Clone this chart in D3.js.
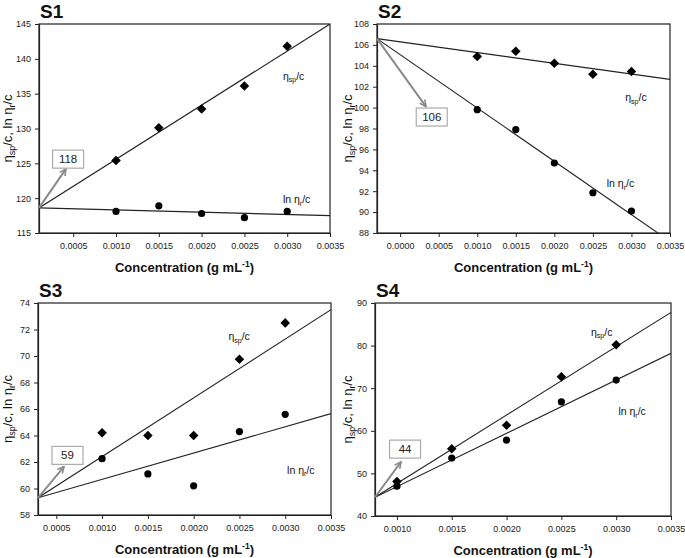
<!DOCTYPE html>
<html><head><meta charset="utf-8">
<script src="https://cdn.jsdelivr.net/npm/d3@7"></script>
<style>
body{margin:0;background:#fff;}
svg{font-family:"Liberation Sans",Arial,sans-serif;}
</style></head><body>
<svg id="c" width="685" height="558"></svg>
<script>
// ---- data ----
const concentrations = [0.0010, 0.0015, 0.0020, 0.0025, 0.0030];
const s1Sp = [125.4, 130.1, 132.8, 136.1, 141.8];
const s1Ln = [118.1, 118.9, 117.8, 117.2, 118.1];
const s2Sp = [104.9, 105.4, 104.25, 103.2, 103.45];
const s2Ln = [99.8, 97.9, 94.7, 91.85, 90.1];
const s3Sp = [64.2, 64.0, 64.0, 69.75, 72.5];
const s3Ln = [62.25, 61.1, 60.2, 64.3, 65.6];
const s4Sp = [48.1, 55.8, 61.3, 72.7, 80.2];
const s4Ln = [47.0, 53.6, 57.8, 66.8, 71.9];
// fitted lines: value at left end and right end of x domain
const s1SpFit = [118.6, 145.0], s1LnFit = [118.6, 117.5];
const s2SpFit = [106.6, 102.7], s2LnFit = [106.6, 87.2];
const s3SpFit = [59.3, 73.5],  s3LnFit = [59.3, 65.65];
const s4SpFit = [44.4, 87.8],  s4LnFit = [44.4, 78.2];
const intercepts = ["118", "106", "59", "44"];
const titles = ["S1", "S2", "S3", "S4"];
const s1XTicks = [0.0005, 0.0010, 0.0015, 0.0020, 0.0025, 0.0030, 0.0035];
const s2XTicks = [0.0000, 0.0005, 0.0010, 0.0015, 0.0020, 0.0025, 0.0030, 0.0035];
const s3XTicks = [0.0005, 0.0010, 0.0015, 0.0020, 0.0025, 0.0030, 0.0035];
const s4XTicks = [0.0010, 0.0015, 0.0020, 0.0025, 0.0030, 0.0035];
const s1YTicks = [115, 120, 125, 130, 135, 140, 145];
const s2YTicks = [88, 90, 92, 94, 96, 98, 100, 102, 104, 106, 108];
const s3YTicks = [58, 60, 62, 64, 66, 68, 70, 72, 74];
const s4YTicks = [40, 50, 60, 70, 80, 90];

// ---- layout ----
const panels = [
  {title: titles[0], box: [39, 24, 330, 233], xd: [0.0001, 0.0035], yd: [115, 145], xt: s1XTicks, yt: s1YTicks,
   sp: s1Sp, ln: s1Ln, spFit: s1SpFit, lnFit: s1LnFit, icpt: intercepts[0],
   boxAt: [0.00044, 125.6], tipAt: [0.000415, 124.2], spLbl: [0.00295, 137.0], lnLbl: [0.00295, 119.3], ylabX: 12},
  {title: titles[1], box: [377, 24, 670, 233], xd: [-0.0003, 0.0035], yd: [88, 108], xt: s2XTicks, yt: s2YTicks,
   sp: s2Sp, ln: s2Ln, spFit: s2SpFit, lnFit: s2LnFit, icpt: intercepts[1],
   boxAt: [0.00041, 99.1], tipAt: [0.000335, 100.1], spLbl: [0.00292, 100.6], lnLbl: [0.00268, 92.4], ylabX: 352},
  {title: titles[2], box: [38, 303, 331, 515], xd: [0.0003, 0.0035], yd: [58, 74], xt: s3XTicks, yt: s3YTicks,
   sp: s3Sp, ln: s3Ln, spFit: s3SpFit, lnFit: s3LnFit, icpt: intercepts[2],
   boxAt: [0.000622, 62.5], tipAt: [0.000584, 61.65], spLbl: [0.00238, 71.2], lnLbl: [0.00302, 61.1], ylabX: 12},
  {title: titles[3], box: [375, 303, 671, 516], xd: [0.0008, 0.0035], yd: [40, 90], xt: s4XTicks, yt: s4YTicks,
   sp: s4Sp, ln: s4Ln, spFit: s4SpFit, lnFit: s4LnFit, icpt: intercepts[3],
   boxAt: [0.001074, 55.7], tipAt: [0.001037, 52.7], spLbl: [0.00277, 82.3], lnLbl: [0.00302, 63.6], ylabX: 352}
];

const svg = d3.select("#c");
const defs = svg.append("defs");
defs.append("marker").attr("id", "ah").attr("viewBox", "0 0 10 10").attr("refX", 9).attr("refY", 5)
  .attr("markerWidth", 4).attr("markerHeight", 4).attr("orient", "auto")
  .append("path").attr("d", "M1,1 L9,5 L1,9").attr("fill", "none").attr("stroke", "#8a8a8a").attr("stroke-width", 2);

const fmt = d3.format(".4f");
const diamond = d3.symbol().type(d3.symbolDiamond2 || d3.symbolDiamond).size(58);

function addLabel(g, x, y, base, sub, prefix) {
  const t = g.append("text").attr("x", x).attr("y", y).attr("font-size", 10.5).attr("fill", "#111");
  if (prefix) t.append("tspan").text(prefix);
  t.append("tspan").text(base);
  t.append("tspan").attr("font-size", 7).attr("dy", 2.5).text(sub);
  t.append("tspan").attr("dy", -2.5).text("/c");
}

panels.forEach((p, i) => {
  const [x0, y0, x1, y1] = p.box;
  const x = d3.scaleLinear().domain(p.xd).range([x0, x1]);
  const y = d3.scaleLinear().domain(p.yd).range([y1, y0]);
  const g = svg.append("g");
  const cid = "clip" + i;
  defs.append("clipPath").attr("id", cid).append("rect").attr("x", x0).attr("y", y0).attr("width", x1 - x0).attr("height", y1 - y0);

  // frame
  g.append("rect").attr("x", x0).attr("y", y0).attr("width", x1 - x0).attr("height", y1 - y0)
    .attr("fill", "none").attr("stroke", "#222").attr("stroke-width", 1.2);

  // axes
  const ax = g.append("g").attr("transform", `translate(0,${y1})`)
    .call(d3.axisBottom(x).tickValues(p.xt).tickFormat(fmt).tickSizeOuter(0).tickSizeInner(4).tickPadding(6));
  const ay = g.append("g").attr("transform", `translate(${x0},0)`)
    .call(d3.axisLeft(y).tickValues(p.yt).tickSizeOuter(0).tickSizeInner(4).tickPadding(4));
  [ax, ay].forEach(a => {
    a.select(".domain").attr("stroke", "#222").attr("stroke-width", 1.2);
    a.selectAll(".tick line").attr("stroke", "#222");
    a.selectAll(".tick text").attr("font-size", 9).attr("fill", "#222").attr("font-family", "Liberation Sans, Arial, sans-serif");
  });

  // title
  g.append("text").attr("x", x0 + 1).attr("y", y0 - 6).attr("font-size", 19).attr("font-weight", "bold")
    .attr("fill", "#111").text(p.title);

  // x label
  const xl = g.append("text").attr("x", (x0 + x1) / 2).attr("y", y1 + 39).attr("text-anchor", "middle")
    .attr("font-size", 13).attr("font-weight", "bold").attr("fill", "#111");
  xl.append("tspan").text("Concentration (g mL");
  xl.append("tspan").attr("font-size", 8.5).attr("dy", -5).text("-1");
  xl.append("tspan").attr("dy", 5).text(")");

  // y label
  const yl = g.append("text").attr("transform", `translate(${p.ylabX},${(y0 + y1) / 2}) rotate(-90)`)
    .attr("text-anchor", "middle").attr("font-size", 13).attr("fill", "#111");
  yl.append("tspan").text("η");
  yl.append("tspan").attr("font-size", 9).attr("dy", 3).text("sp");
  yl.append("tspan").attr("dy", -3).text("/c, ln η");
  yl.append("tspan").attr("font-size", 9).attr("dy", 3).text("r");
  yl.append("tspan").attr("dy", -3).text("/c");

  // fitted lines
  const lg = g.append("g").attr("clip-path", `url(#${cid})`);
  [p.spFit, p.lnFit].forEach(f => {
    lg.append("line").attr("x1", x(p.xd[0])).attr("y1", y(f[0])).attr("x2", x(p.xd[1])).attr("y2", y(f[1]))
      .attr("stroke", "#222").attr("stroke-width", 1.1);
  });

  // arrow
  g.append("line").attr("x1", x(p.xd[0])).attr("y1", y(p.spFit[0]))
    .attr("x2", x(p.tipAt[0])).attr("y2", y(p.tipAt[1]))
    .attr("stroke", "#8a8a8a").attr("stroke-width", 2).attr("marker-end", "url(#ah)");

  // intercept box
  const bx = x(p.boxAt[0]), by = y(p.boxAt[1]);
  g.append("rect").attr("x", bx - 15.5).attr("y", by - 9).attr("width", 31).attr("height", 18)
    .attr("fill", "#fff").attr("stroke", "#aaa").attr("stroke-width", 1.2);
  g.append("text").attr("x", bx).attr("y", by + 4).attr("text-anchor", "middle").attr("font-size", 11.5)
    .attr("fill", "#222").text(p.icpt);

  // markers
  g.selectAll(null).data(concentrations.map((c, k) => [c, p.sp[k]])).enter().append("path")
    .attr("d", diamond).attr("transform", d => `translate(${x(d[0])},${y(d[1])})`).attr("fill", "#000");
  g.selectAll(null).data(concentrations.map((c, k) => [c, p.ln[k]])).enter().append("circle")
    .attr("cx", d => x(d[0])).attr("cy", d => y(d[1])).attr("r", 3.6).attr("fill", "#000");

  // series labels
  addLabel(g, x(p.spLbl[0]), y(p.spLbl[1]), "η", "sp", "");
  addLabel(g, x(p.lnLbl[0]), y(p.lnLbl[1]), "η", "r", "ln ");
});
</script>
</body></html>
